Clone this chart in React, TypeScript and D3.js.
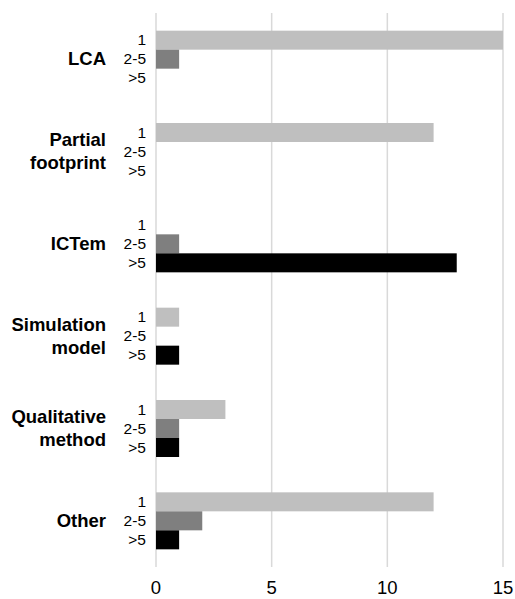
import * as d3 from 'd3'

const methods = [['LCA'], ['Partial', 'footprint'], ['ICTem'], ['Simulation', 'model'], ['Qualitative', 'method'], ['Other']]
const subLabels = ['1', '2-5', '>5']
const onesValues = [15, 12, 0, 1, 3, 12]
const twoToFiveValues = [1, 0, 1, 0, 1, 2]
const overFiveValues = [0, 0, 13, 1, 1, 1]
const xTickValues = [0, 5, 10, 15]
const barColors = ['#bfbfbf', '#7f7f7f', '#000000']

export default function App() {
  const width = 515
  const height = 599
  const margin = { top: 13, right: 12, bottom: 32, left: 156 }
  const x = d3.scaleLinear().domain([0, 15]).range([margin.left, width - margin.right])
  const y = d3
    .scaleBand<number>()
    .domain(d3.range(methods.length))
    .range([margin.top, height - margin.bottom])
  const series = [onesValues, twoToFiveValues, overFiveValues]
  const barH = 19
  const groupH = barH * 3

  return (
    <svg
      width={width}
      height={height}
      style={{ position: 'absolute', left: 0, top: 0, fontFamily: 'Liberation Sans, Arial, sans-serif' }}
    >
      {xTickValues.map((tick) => (
        <g key={tick}>
          <line
            x1={x(tick)}
            x2={x(tick)}
            y1={margin.top}
            y2={height - margin.bottom}
            stroke="#d9d9d9"
            strokeWidth={1.5}
          />
          <text x={x(tick)} y={594} textAnchor="middle" fontSize={18.5} fill="#000">
            {tick}
          </text>
        </g>
      ))}

      {methods.map((lines, i) => {
        const center = (y(i) ?? 0) + y.bandwidth() / 2
        const top = center - groupH / 2
        const lineH = 23
        return (
          <g key={lines.join(' ')}>
            <text
              x={106}
              textAnchor="end"
              fontSize={18.5}
              fontWeight="bold"
              fill="#000"
            >
              {lines.map((line, j) => (
                <tspan key={line} x={106} y={center + 6 + (j - (lines.length - 1) / 2) * lineH}>
                  {line}
                </tspan>
              ))}
            </text>
            {series.map((vals, s) => (
              <g key={s}>
                <text
                  x={146}
                  y={top + s * barH + barH / 2 + 5}
                  textAnchor="end"
                  fontSize={15.5}
                  fill="#000"
                >
                  {subLabels[s]}
                </text>
                {vals[i] > 0 && (
                  <rect
                    x={x(0)}
                    y={top + s * barH}
                    width={x(vals[i]) - x(0)}
                    height={barH}
                    fill={barColors[s]}
                  />
                )}
              </g>
            ))}
          </g>
        )
      })}
    </svg>
  )
}
